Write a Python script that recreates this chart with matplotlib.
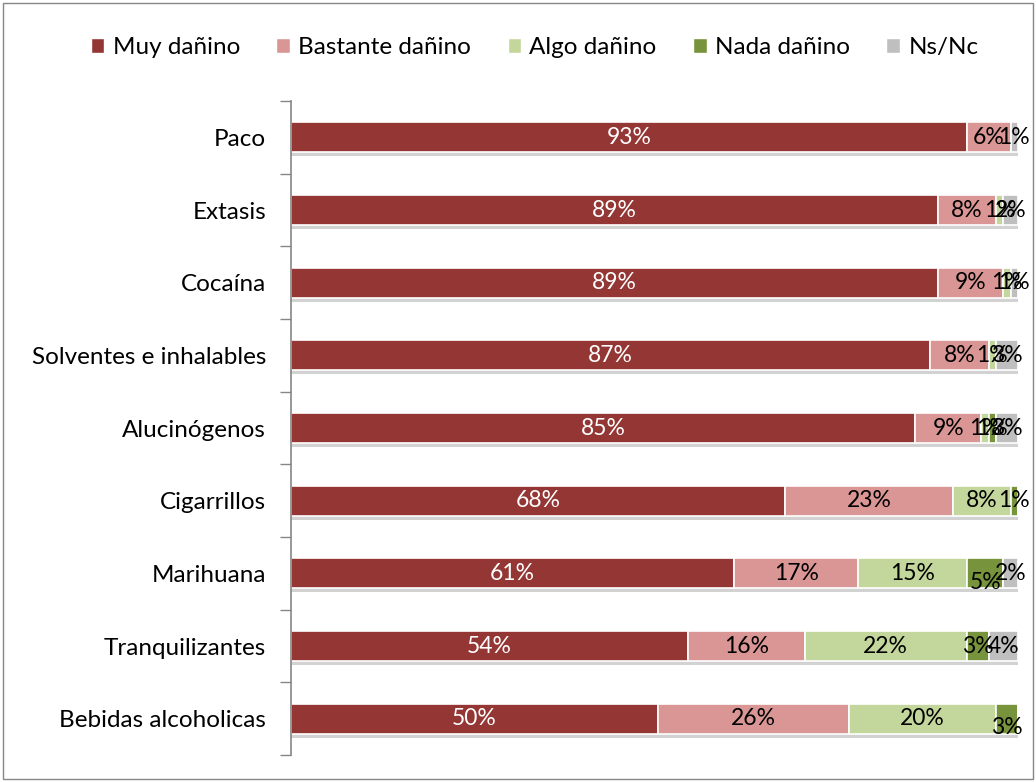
import matplotlib
matplotlib.use("Agg")
import matplotlib.pyplot as plt
import matplotlib.patheffects as pe
from matplotlib.patches import Patch, Rectangle
import numpy as np

plt.rcParams['font.family'] = ['Lato', 'DejaVu Sans']

categorias = ["Paco", "Extasis", "Cocaína", "Solventes e inhalables", "Alucinógenos",
              "Cigarrillos", "Marihuana", "Tranquilizantes", "Bebidas alcoholicas"]
series = ["Muy dañino", "Bastante dañino", "Algo dañino", "Nada dañino", "Ns/Nc"]
muy = [93, 89, 89, 87, 85, 68, 61, 54, 50]
bastante = [6, 8, 9, 8, 9, 23, 17, 16, 26]
algo = [0, 1, 1, 1, 1, 8, 15, 22, 20]
nada = [0, 0, 0, 0, 1, 1, 5, 3, 3]
nsnc = [1, 2, 1, 3, 3, 0, 2, 4, 0]
colores = ["#943634", "#D99694", "#C3D69B", "#77933C", "#BFBFBF"]
color_texto = ["white", "black", "black", "black", "black"]
# etiquetas que Excel desplazó hacia abajo (serie, categoría)
desplazadas = [(3, 6), (3, 8)]

valores = np.array([muy, bastante, algo, nada, nsnc], dtype=float)
totales = valores.sum(axis=0)
y = np.arange(len(categorias))

fig = plt.figure(figsize=(10.36, 7.82), dpi=100)
ax = fig.add_axes([0.2809, 0.0345, 0.7017, 0.8363])

izq = np.zeros(len(categorias))
for i, nombre in enumerate(series):
    ancho = valores[i] / totales
    barras = ax.barh(y, ancho, left=izq, height=0.41, color=colores[i],
                     edgecolor="white", linewidth=1.2, label=nombre)
    for b in barras:
        b.set_path_effects([pe.SimplePatchShadow(offset=(0, -3), shadow_rgbFace="#808080", alpha=0.35),
                            pe.Normal()])
    for j in range(len(categorias)):
        if valores[i, j] > 0:
            dy = 0.12 if (i, j) in desplazadas else 0
            ax.text(izq[j] + ancho[j] / 2, y[j] + dy, f"{int(valores[i, j])}%",
                    ha="center", va="center", fontsize=16.5, color=color_texto[i])
    izq += ancho

ax.set_xlim(0, 1)
ax.set_ylim(len(categorias) - 0.5, -0.5)
ax.set_yticks(y)
ax.set_yticklabels(categorias, fontsize=17.5)
ax.set_yticks(np.arange(len(categorias) + 1) - 0.5, minor=True)
ax.tick_params(axis="y", which="major", length=0, pad=18)
ax.tick_params(axis="y", which="minor", length=8, color="#868686", width=1)
ax.set_xticks([])
for s in ["top", "right", "bottom"]:
    ax.spines[s].set_visible(False)
ax.spines["left"].set_color("#868686")
ax.spines["left"].set_linewidth(1.2)

handles = [Patch(facecolor=c, edgecolor="white") for c in colores]
fig.legend(handles, series, loc="center", bbox_to_anchor=(0.516, 0.939), ncol=5,
           frameon=False, fontsize=17.5, handlelength=0.55, handleheight=0.55,
           handletextpad=0.35, columnspacing=1.5)

fig.patches.append(Rectangle((0.003, 0.004), 0.994, 0.992, transform=fig.transFigure,
                             fill=False, edgecolor="#868686", linewidth=1))

fig.savefig("out.png", dpi=100)
